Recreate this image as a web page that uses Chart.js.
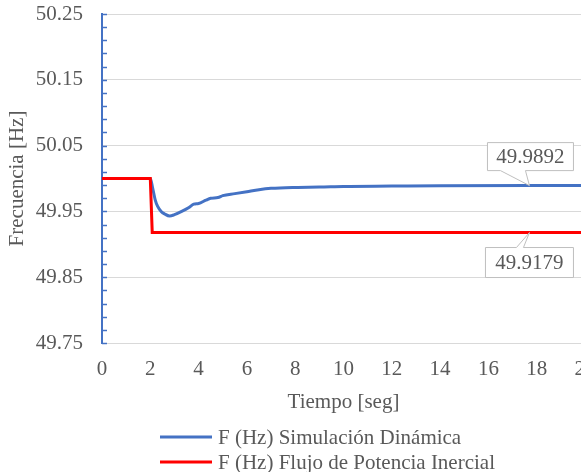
<!DOCTYPE html>
<html>
<head>
<meta charset="utf-8">
<script src="https://cdn.jsdelivr.net/npm/chart.js@4"></script>
<style>
  html, body { margin: 0; padding: 0; background: #fff; overflow: hidden; }
  #wrap { width: 600px; height: 472px; }
</style>
</head>
<body>
<div id="wrap"><canvas id="graph" width="600" height="472"></canvas></div>
<script>
// tiempo [seg] y frecuencia [Hz]
const tBlue = [0, 2.0, 2.1, 2.2, 2.3, 2.45, 2.6, 2.8, 3.0, 3.3, 3.6, 3.8, 4.0, 4.3, 4.5, 4.8, 5.0, 5.5, 6.0, 6.5, 7.0, 8.0, 9.0, 10.0, 12.0, 14.0, 17.7, 20.0];
const fBlue = [50.0, 50.0, 49.985, 49.968, 49.958, 49.950, 49.946, 49.943, 49.945, 49.950, 49.956, 49.961, 49.962, 49.967, 49.970, 49.971, 49.974, 49.977, 49.980, 49.983, 49.985, 49.9865, 49.987, 49.988, 49.9885, 49.989, 49.9892, 49.9892];
const tRed = [0, 2.0, 2.08, 17.7, 20.0];
const fRed = [50.0, 50.0, 49.9179, 49.9179, 49.9179];
const seriesNames = ["F (Hz) Simulación Dinámica", "F (Hz) Flujo de Potencia Inercial"];
const seriesColors = ["#4472c4", "#ff0000"];
const yTicks = [49.75, 49.85, 49.95, 50.05, 50.15, 50.25];
const xTicks = [0, 2, 4, 6, 8, 10, 12, 14, 16, 18, 20];
const minorStep = 0.02;
const calloutTime = 17.7;

const font = "'Liberation Serif', 'Times New Roman', Times, serif";
const grey = '#595959';

const toPts = (xs, ys) => xs.map((x, i) => ({x: x, y: ys[i]}));

// marcas menores azules hacia dentro del eje Y
const minorTicks = {
  id: 'minorTicks',
  afterDraw(chart) {
    const y = chart.scales.y, ctx = chart.ctx, left = chart.chartArea.left;
    ctx.save();
    ctx.strokeStyle = seriesColors[0];
    ctx.lineWidth = 1.5;
    for (let v = y.min; v <= y.max + 1e-9; v += minorStep) {
      const py = Math.round(y.getPixelForValue(v)) + 0.5;
      ctx.beginPath();
      ctx.moveTo(left, py);
      ctx.lineTo(left + 5, py);
      ctx.stroke();
    }
    ctx.restore();
  }
};

// etiquetas tipo llamada
const callouts = {
  id: 'callouts',
  afterDatasetsDraw(chart) {
    const ctx = chart.ctx, xs = chart.scales.x, ys = chart.scales.y;
    const items = [
      {val: fBlue[fBlue.length - 1], dx: 1, dy: -29, w: 86, h: 28, p1: -29, p2: -4},
      {val: fRed[fRed.length - 1], dx: 0, dy: 30, w: 88, h: 30, p1: -13, p2: -6}
    ];
    ctx.save();
    items.forEach(it => {
      const tx = xs.getPixelForValue(calloutTime), ty = ys.getPixelForValue(it.val);
      const cx = tx + it.dx, cy = ty + it.dy;
      const l = cx - it.w / 2, r = cx + it.w / 2, t = cy - it.h / 2, b = cy + it.h / 2;
      ctx.beginPath();
      if (it.dy < 0) {
        ctx.moveTo(l, t); ctx.lineTo(r, t); ctx.lineTo(r, b);
        ctx.lineTo(tx + it.p2, b); ctx.lineTo(tx, ty); ctx.lineTo(tx + it.p1, b);
        ctx.lineTo(l, b); ctx.closePath();
      } else {
        ctx.moveTo(l, t); ctx.lineTo(tx + it.p1, t); ctx.lineTo(tx, ty); ctx.lineTo(tx + it.p2, t);
        ctx.lineTo(r, t); ctx.lineTo(r, b); ctx.lineTo(l, b); ctx.closePath();
      }
      ctx.fillStyle = '#fff';
      ctx.fill();
      ctx.strokeStyle = '#bfbfbf';
      ctx.lineWidth = 1;
      ctx.stroke();
      ctx.fillStyle = grey;
      ctx.font = '21px ' + font;
      ctx.textAlign = 'center';
      ctx.textBaseline = 'middle';
      ctx.fillText(it.val.toFixed(4), cx, cy + 1);
    });
    ctx.restore();
  }
};

// leyenda en dos filas
const legendRows = {
  id: 'legendRows',
  afterDraw(chart) {
    const ctx = chart.ctx;
    const rowsY = [437, 462];
    ctx.save();
    ctx.font = '21px ' + font;
    ctx.textBaseline = 'middle';
    ctx.textAlign = 'left';
    seriesNames.forEach((name, i) => {
      ctx.strokeStyle = seriesColors[i];
      ctx.lineWidth = 3;
      ctx.beginPath();
      ctx.moveTo(160, rowsY[i]);
      ctx.lineTo(212, rowsY[i]);
      ctx.stroke();
      ctx.fillStyle = grey;
      ctx.fillText(name, 218, rowsY[i] + 1);
    });
    ctx.restore();
  }
};

new Chart(document.getElementById('graph'), {
  type: 'line',
  data: {
    datasets: [
      {
        label: seriesNames[0],
        data: toPts(tBlue, fBlue),
        borderColor: seriesColors[0],
        borderWidth: 3,
        pointRadius: 0,
        cubicInterpolationMode: 'monotone',
        order: 1
      },
      {
        label: seriesNames[1],
        data: toPts(tRed, fRed),
        borderColor: seriesColors[1],
        borderWidth: 3,
        pointRadius: 0,
        tension: 0,
        order: 0
      }
    ]
  },
  options: {
    responsive: false,
    animation: false,
    layout: { padding: { top: 14, right: 15, bottom: 57, left: 0 } },
    plugins: { legend: { display: false }, tooltip: { enabled: false } },
    scales: {
      x: {
        type: 'linear',
        min: 0,
        max: 20,
        afterBuildTicks: s => { s.ticks = xTicks.map(v => ({value: v})); },
        afterFit: s => { s.height = 72; s.paddingLeft = 0; s.paddingRight = 0; },
        grid: { display: false, drawTicks: false },
        border: { display: true, color: '#d9d9d9', width: 1 },
        ticks: { padding: 14, color: grey, font: { family: font, size: 21 }, maxRotation: 0 },
        title: { display: true, text: 'Tiempo [seg]', color: grey, font: { family: font, size: 21 }, padding: { top: 3, bottom: 0 } }
      },
      y: {
        min: 49.75,
        max: 50.25,
        afterBuildTicks: s => { s.ticks = yTicks.map(v => ({value: v})); },
        afterFit: s => { s.width = 102; s.paddingTop = 0; s.paddingBottom = 0; },
        grid: { color: '#d9d9d9', lineWidth: 1, drawTicks: false },
        border: { display: true, color: seriesColors[0], width: 2 },
        ticks: { padding: 19, color: grey, font: { family: font, size: 21 }, callback: v => v.toFixed(2) },
        title: { display: true, text: 'Frecuencia [Hz]', color: grey, font: { family: font, size: 21 }, padding: { top: 5, bottom: 0 } }
      }
    }
  },
  plugins: [minorTicks, callouts, legendRows]
});
</script>
</body>
</html>
